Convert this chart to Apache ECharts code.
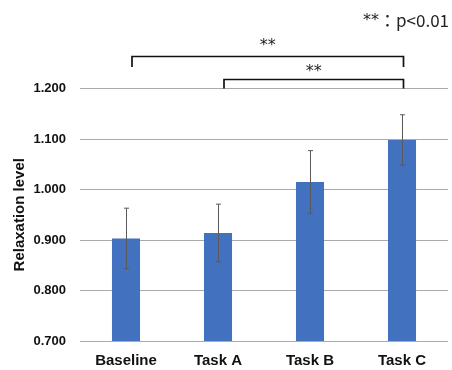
<!DOCTYPE html>
<html><head><meta charset="utf-8">
<script src="https://cdn.jsdelivr.net/npm/echarts@6/dist/echarts.min.js"></script>
<style>html,body{margin:0;padding:0;background:#fff}#c{width:452px;height:370px}</style>
</head><body><div id="c"></div>
<script>
var categories = ['Baseline', 'Task A', 'Task B', 'Task C'];
var means = [0.903, 0.914, 1.015, 1.098];
var errors = [0.060, 0.057, 0.062, 0.050];
var yTicks = [0.7, 0.8, 0.9, 1.0, 1.1, 1.2];
// brackets: [fromCategory, toCategory, yValue, label]
var brackets = [[0, 3, 1.264, '**'], [1, 3, 1.218, '**']];
var noteStars = '**';
var noteText = '：p<0.01';

var chart = echarts.init(document.getElementById('c'), null, {renderer: 'canvas'});
var errData = means.map(function (m, i) { return [i, m - errors[i], m + errors[i]]; });
var brData = brackets.map(function (b) { return [b[0], b[1], b[2], b[3]]; });
var starGap = [11, 8];

chart.setOption({
  animation: false,
  grid: {left: 80, right: 4, top: 88.5, bottom: 29, containLabel: false},
  graphic: [{type: 'text', right: 3, top: 12, style: {
    text: '{s|' + noteStars + '}{t|' + noteText + '}',
    rich: {
      s: {font: '16px "DejaVu Sans"', fill: '#222', verticalAlign: 'middle'},
      t: {font: '17px "Noto Sans CJK JP"', fill: '#222', verticalAlign: 'middle'}
    }}}],
  xAxis: {
    type: 'category', data: categories,
    axisLine: {show: false}, axisTick: {show: false},
    axisLabel: {margin: 12, color: '#111', fontWeight: 'bold', fontSize: 15, fontFamily: 'Liberation Sans'}
  },
  yAxis: {
    type: 'value', min: yTicks[0], max: yTicks[yTicks.length - 1], interval: 0.1,
    name: 'Relaxation level', nameLocation: 'middle', nameGap: 53, nameRotate: 90, nameMoveOverlap: false,
    nameTextStyle: {color: '#111', fontWeight: 'bold', fontSize: 15, fontFamily: 'Liberation Sans'},
    axisLine: {show: false}, axisTick: {show: false},
    splitLine: {lineStyle: {color: '#aaaaaa', width: 1}},
    axisLabel: {margin: 14, color: '#111', fontWeight: 'bold', fontSize: 13, fontFamily: 'Liberation Sans',
      formatter: function (v) { return v.toFixed(3); }}
  },
  series: [
    {type: 'bar', data: means, barWidth: '30.5%', itemStyle: {color: '#4271bf'}},
    {type: 'custom', data: errData, z: 5,
      renderItem: function (params, api) {
        var x = api.value(0);
        var lo = api.coord([x, api.value(1)]);
        var hi = api.coord([x, api.value(2)]);
        var cx = Math.round(lo[0]) + 0.5, w = 2.5;
        var st = {stroke: '#5a5a5a', lineWidth: 1};
        return {type: 'group', children: [
          {type: 'line', shape: {x1: cx, y1: lo[1], x2: cx, y2: hi[1]}, style: st},
          {type: 'line', shape: {x1: cx - w, y1: hi[1], x2: cx + w, y2: hi[1]}, style: st},
          {type: 'line', shape: {x1: cx - w, y1: lo[1], x2: cx + w, y2: lo[1]}, style: st}
        ]};
      }
    },
    {type: 'custom', data: brData, z: 6, clip: false,
      renderItem: function (params, api) {
        var a = api.coord([api.value(0), api.value(2)]);
        var b = api.coord([api.value(1), api.value(2)]);
        var base = api.coord([api.value(0), 1.2]);
        var x1 = a[0] + 6, x2 = b[0] + 1.5, y = Math.round(a[1]) + 0.5;
        var drop = Math.min(10.5, base[1] - y);
        var st = {stroke: '#111', lineWidth: 1.7, fill: null};
        return {type: 'group', children: [
          {type: 'polyline', shape: {points: [[x1, y + drop], [x1, y], [x2, y], [x2, y + drop]]}, style: st},
          {type: 'text', x: (x1 + x2) / 2, y: y - starGap[params.dataIndex], style: {text: brData[params.dataIndex][3], font: '16px "DejaVu Sans"', fill: '#222', align: 'center', verticalAlign: 'middle'}}
        ]};
      }
    }
  ]
});
</script></body></html>
